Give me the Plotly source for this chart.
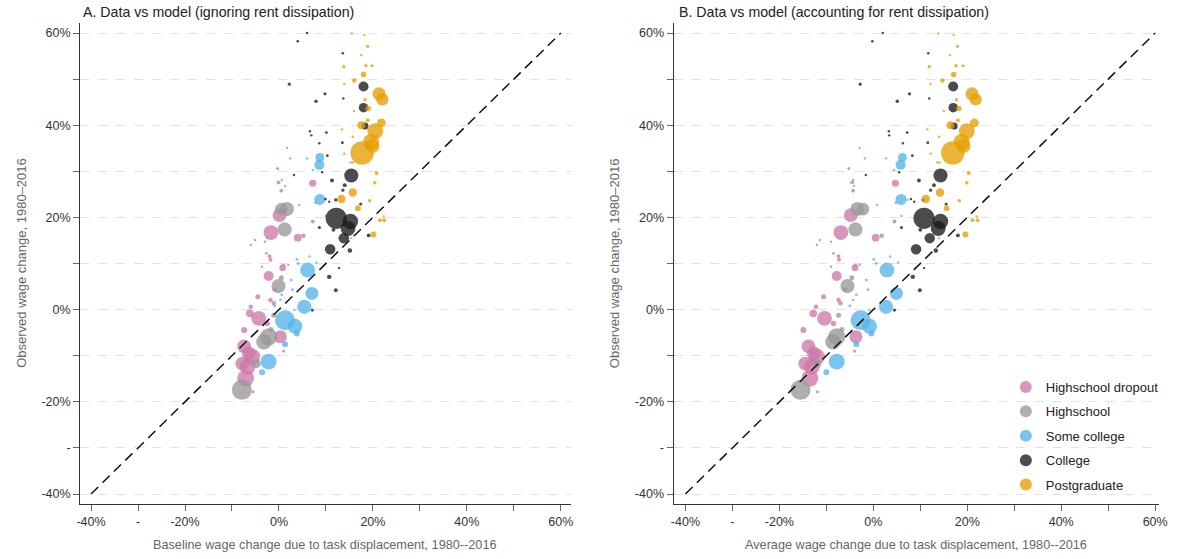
import plotly.graph_objects as go

# Education groups and their colours
groups = ["Highschool dropout", "Highschool", "Some college", "College", "Postgraduate"]
colors = ["#CC79A7", "#999999", "#56B4E9", "#1a1a1a", "#E69F00"]

# Highschool dropout: observed wage change, baseline model, average model, employment share
hsd_obs = [30.6, 27.4, 20.5, 16.7, 15.6, 11.6, 10.8, 9.1, 7.3, 4.3, 2.8, 2.1, -0.8, -1.9, -4.4, -5.9,
           -8.0, -9.5, -10.2, -11.7, -12.4, -14.9, -17.8, 15.1, 32.8, 27.6, 14.7, 12.2, 9.7, 9.7,
           0.6, 1.4, -3.0]
hsd_base = [-0.3, 7.2, 0.1, -1.7, 4.0, -2.0, -1.8, 0.8, -2.2, -0.9, -4.5, -1.8, -6.2, -4.3, -7.4, 0.3,
            -7.4, -6.4, -5.7, -7.8, -6.7, -7.1, -5.5, -5.1, 2.4, -0.1, -3.0, -2.7, 1.0, 2.0,
            -6.0, -1.1, -2.5]
hsd_avg = [-5.2, 4.7, -4.8, -6.9, 0.5, -7.4, -7.3, -3.9, -7.8, -6.0, -10.6, -7.4, -12.8, -10.4, -14.9, -3.7,
           -13.8, -12.7, -12.0, -14.5, -13.1, -13.5, -11.9, -11.4, -1.8, -4.5, -9.0, -8.5, -3.8, -2.9,
           -12.2, -7.0, -8.5]
hsd_share = [0.09, 0.5, 1.9, 2.2, 0.6, 0.15, 0.15, 0.45, 1.0, 0.2, 0.25, 0.2, 0.6, 2.2, 0.36, 1.7,
             1.9, 1.9, 2.5, 1.9, 2.5, 2.8, 0.09, 0.05, 0.05, 0.15, 0.06, 0.08, 0.06, 0.06,
             0.2, 0.2, 0.3]

# Highschool
hs_obs = [21.8, 21.8, 17.4, 28.1, 25.8, 16.0, 19.1, 5.1, -5.9, -7.0, -17.4, -11.7, -1.2, 6.9, -4.3, 9.3, 14.0, -9.0]
hs_base = [1.7, 0.5, 1.2, 0.6, 0.5, 5.2, 7.2, -0.1, -2.2, -3.2, -7.9, -4.8, -1.1, 0.5, -1.7, -3.6, -6.0, 1.0]
hs_avg = [-3.4, -2.2, -3.8, -4.3, -4.3, 1.8, 4.5, -5.5, -7.8, -8.6, -15.5, -12.0, -7.4, -4.6, -6.7, -9.0, -12.0, -4.0]
hs_share = [2.0, 1.6, 2.0, 0.06, 0.15, 0.2, 0.15, 2.0, 3.0, 2.4, 4.0, 0.8, 0.25, 0.25, 0.25, 0.06, 0.05, 0.1]

# Some college
sc_obs = [35.1, 33.0, 31.4, 32.8, 30.3, 26.8, 23.9, 23.8, 20.3, 8.6, 3.5, 0.6, -2.3, -3.6, -5.2, -7.5,
          -11.3, -13.6, 22.7, 11.5, 10.2, 10.9, 10.0, 6.4, 4.3, -0.1, 3.2, 2.1, 0.8, 15.5, 23.2]
sc_base = [1.7, 8.7, 8.6, 6.0, 7.2, 1.3, 8.7, 9.7, 9.9, 6.1, 7.0, 5.4, 1.3, 3.4, 3.8, 1.3,
           -2.2, -3.6, 4.3, 6.5, 8.0, 3.8, 4.1, 2.6, 2.9, 3.3, 0.6, 0.3, -0.9, -2.5, 7.8]
sc_avg = [-2.9, 6.2, 5.8, 2.7, 4.4, -4.1, 5.9, 7.3, 6.0, 2.9, 4.9, 2.7, -2.7, -0.8, -0.4, -3.6,
          -7.8, -10.0, 0.8, 3.6, 5.3, 0.1, 0.6, -1.5, -1.1, -0.8, -3.6, -4.3, -5.0, -7.0, 4.8]
sc_share = [0.05, 0.8, 1.0, 0.06, 0.06, 0.05, 1.2, 0.05, 0.05, 2.2, 1.7, 2.0, 4.0, 2.2, 0.36, 0.36,
            2.5, 0.36, 0.05, 0.06, 0.06, 0.08, 0.08, 0.08, 0.08, 0.06, 0.08, 0.06, 0.08, 0.05, 0.08]

# College
col_obs = [60.0, 58.2, 55.6, 48.9, 48.4, 46.8, 45.2, 43.8, 45.8, 39.8, 38.7, 37.8, 38.4, 36.1, 36.2, 33.4,
           29.8, 29.1, 28.0, 29.2, 27.0, 25.9, 23.8, 22.9, 19.8, 19.1, 17.6, 15.5, 17.3, 13.1, 12.8, 16.1,
           7.1, 4.2, 9.0, -0.1, 17.8, 24.0, 23.4]
col_base = [6.0, 4.0, 13.6, 2.2, 18.0, 9.8, 7.9, 18.0, 13.7, 18.3, 6.6, 6.9, 10.1, 8.6, 13.5, 10.3,
            9.2, 15.4, 11.3, 3.2, 14.0, 13.6, 12.1, 17.4, 12.2, 15.2, 14.7, 13.8, 11.6, 10.9, 15.1, 19.1,
            10.7, 12.1, 12.8, 7.1, 8.6, 9.9, 10.7]
col_avg = [2.0, -0.2, 11.7, -2.8, 17.0, 7.7, 5.1, 17.0, 11.9, 17.2, 3.3, 3.4, 7.2, 6.3, 11.6, 8.3,
           5.5, 14.3, 9.7, -1.6, 12.9, 12.2, 10.6, 15.5, 10.8, 14.3, 13.8, 12.0, 10.0, 9.1, 13.3, 18.0,
           8.4, 9.9, 10.8, 4.5, 6.0, 8.0, 8.7]
col_share = [0.07, 0.07, 0.07, 0.1, 1.0, 0.1, 0.12, 0.9, 0.04, 0.5, 0.04, 0.04, 0.08, 0.04, 0.08, 0.08,
             0.04, 2.0, 0.15, 0.04, 0.15, 0.1, 0.12, 0.1, 4.5, 2.4, 2.2, 1.1, 0.15, 1.1, 0.2, 0.15,
             0.2, 0.15, 0.05, 0.1, 0.1, 0.04, 0.04]

# Postgraduate
pg_obs = [59.9, 59.6, 57.1, 55.2, 52.7, 52.9, 52.9, 51.0, 49.7, 48.9, 46.8, 45.6, 45.5, 43.6, 43.1, 41.1,
          40.5, 40.0, 38.7, 36.4, 35.5, 34.0, 33.8, 31.9, 31.9, 29.6, 27.5, 25.4, 24.0, 23.6, 22.0, 19.4,
          19.4, 20.2, 16.3, 39.1, 37.5, 15.5]
pg_base = [15.5, 18.2, 18.9, 17.5, 13.8, 18.5, 19.8, 18.0, 16.0, 13.9, 21.3, 22.0, 18.3, 19.0, 16.0, 18.9,
           21.8, 17.5, 20.5, 19.6, 19.9, 17.7, 13.9, 15.2, 15.7, 20.8, 20.4, 15.7, 13.3, 19.3, 16.8, 21.5,
           22.4, 22.3, 20.1, 13.4, 15.7, 15.4]
pg_avg = [13.8, 17.1, 17.9, 16.3, 11.9, 17.6, 19.1, 17.1, 14.7, 12.2, 21.0, 21.8, 17.7, 18.2, 15.0, 18.0,
          21.5, 16.4, 19.9, 18.8, 19.2, 16.9, 12.2, 13.6, 14.1, 20.3, 19.9, 14.2, 11.2, 18.3, 15.6, 21.1,
          22.2, 22.0, 19.6, 11.5, 14.0, 14.0]
pg_share = [0.05, 0.05, 0.1, 0.04, 0.12, 0.12, 0.1, 0.3, 0.2, 0.05, 1.7, 1.5, 0.12, 0.3, 0.04, 0.15,
            0.8, 0.6, 2.5, 2.5, 2.0, 5.5, 0.04, 0.05, 0.05, 0.15, 0.12, 0.7, 0.7, 0.12, 0.35, 0.15,
            0.15, 0.05, 0.35, 0.04, 0.04, 0.05]

# 45-degree reference line
diag = [-40, 60]

# Axis ticks
tick_vals = [-40, -30, -20, -10, 0, 10, 20, 30, 40, 50, 60]
tick_text = ["-40%", "-", "-20%", "", "0%", "", "20%", "", "40%", "", "60%"]

obs_sets = [hsd_obs, hs_obs, sc_obs, col_obs, pg_obs]
base_sets = [hsd_base, hs_base, sc_base, col_base, pg_base]
avg_sets = [hsd_avg, hs_avg, sc_avg, col_avg, pg_avg]
share_sets = [hsd_share, hs_share, sc_share, col_share, pg_share]

FONT = "Liberation Sans, Arial, sans-serif"

fig = go.Figure()

for i, name in enumerate(groups):
    for panel, xs in ((1, base_sets[i]), (2, avg_sets[i])):
        fig.add_trace(go.Scatter(
            x=xs, y=obs_sets[i], mode="markers", name=name,
            legendgroup=name, showlegend=(panel == 2),
            xaxis="x" if panel == 1 else "x2", yaxis="y" if panel == 1 else "y2",
            marker=dict(color=colors[i], size=share_sets[i], sizemode="area",
                        sizeref=0.02, sizemin=1.2, opacity=0.78, line=dict(width=0)),
            hoverinfo="skip",
        ))

for ax in ("1", "2"):
    fig.add_trace(go.Scatter(
        x=diag, y=diag, mode="lines", showlegend=False, hoverinfo="skip",
        xaxis="x" if ax == "1" else "x2", yaxis="y" if ax == "1" else "y2",
        line=dict(color="#111111", width=1.5, dash="10px,6px"),
    ))

W, H = 1180, 559


def px_x(p):
    return p / W


def px_y(p):
    return 1 - p / H


axis_common = dict(
    tickvals=tick_vals, ticktext=tick_text, ticks="outside", ticklen=6, tickwidth=1,
    tickcolor="#666666", showline=True, linecolor="#333333", linewidth=1,
    zeroline=False, tickfont=dict(family=FONT, size=12.5, color="#333333"),
)

fig.update_layout(
    width=W, height=H, margin=dict(l=0, r=0, t=0, b=0),
    paper_bgcolor="white", plot_bgcolor="white",
    font=dict(family=FONT),
    xaxis=dict(domain=[px_x(77), px_x(573)], range=[-42.32, 62.1], showgrid=False,
               anchor="y", **axis_common),
    xaxis2=dict(domain=[px_x(677), px_x(1168)], range=[-42.53, 60.84], showgrid=False,
                anchor="y2", **axis_common),
    yaxis=dict(domain=[px_y(504), px_y(23)], range=[-42.17, 62.17], showgrid=True,
               gridcolor="#e3e3e3", griddash="dash", gridwidth=1, anchor="x", **axis_common),
    yaxis2=dict(domain=[px_y(504), px_y(23)], range=[-42.17, 62.17], showgrid=True,
                gridcolor="#e3e3e3", griddash="dash", gridwidth=1, anchor="x2", **axis_common),
    legend=dict(x=px_x(1013), y=px_y(372), xanchor="left", yanchor="top",
                font=dict(family=FONT, size=13, color="#222222"), itemsizing="constant",
                tracegroupgap=4.5, bgcolor="rgba(0,0,0,0)"),
    showlegend=True,
)

annotations = [
    dict(text="A. Data vs model (ignoring rent dissipation)", x=px_x(78), y=px_y(12),
         xanchor="left", yanchor="middle", font=dict(size=14.2, color="#222222")),
    dict(text="B. Data vs model (accounting for rent dissipation)", x=px_x(680), y=px_y(12),
         xanchor="left", yanchor="middle", font=dict(size=14.2, color="#222222")),
    dict(text="Observed wage change, 1980–2016", x=px_x(17), y=px_y(263), textangle=-90,
         xanchor="center", yanchor="middle", font=dict(size=13, color="#666666")),
    dict(text="Observed wage change, 1980–2016", x=px_x(617), y=px_y(263), textangle=-90,
         xanchor="center", yanchor="middle", font=dict(size=13, color="#666666")),
    dict(text="Baseline wage change due to task displacement, 1980--2016", x=px_x(325),
         y=px_y(545), xanchor="center", yanchor="middle", font=dict(size=12.7, color="#666666")),
    dict(text="Average wage change due to task displacement, 1980--2016", x=px_x(922),
         y=px_y(545), xanchor="center", yanchor="middle", font=dict(size=12.7, color="#666666")),
]
for a in annotations:
    a.update(xref="paper", yref="paper", showarrow=False, font=dict(family=FONT, **a["font"]))
fig.update_layout(annotations=annotations)

fig.write_html("out.html", config={"displayModeBar": False})
